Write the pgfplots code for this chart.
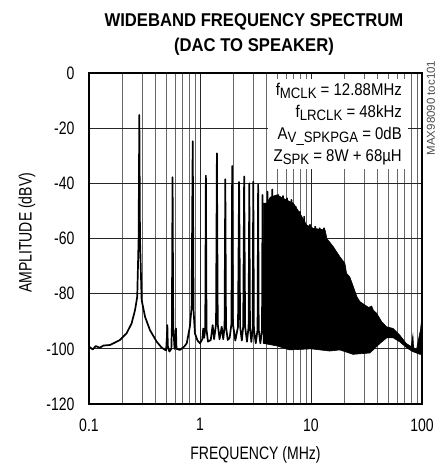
\documentclass[border=0pt]{standalone}
\usepackage{fontspec}
\setmainfont{Liberation Sans}[FakeStretch=0.78]
\newfontfamily\boxfont{Liberation Sans}[FakeStretch=0.88]
\newfontfamily\plainfont{Liberation Sans}
\newfontfamily\titlefont{Liberation Sans Bold}[FakeStretch=0.9]
\usepackage{pgfplots}
\pgfplotsset{compat=1.18}

\newcommand\sub[1]{\raisebox{-0.35ex}{\fontsize{15pt}{15pt}\selectfont #1}}

\begin{document}
\begin{tikzpicture}
\useasboundingbox (-89pt,-60pt) rectangle (351pt,404pt);
\begin{semilogxaxis}[
  scale only axis, width=333pt, height=331pt,
  xmin=0.1, xmax=100, ymin=-120, ymax=0,
  xtick={0.1,1,10,100}, xticklabels={0.1,1,10,100},
  minor xtick={0.2,0.3,0.4,0.5,0.6,0.7,0.8,0.9,2,3,4,5,6,7,8,9,20,30,40,50,60,70,80,90},
  ytick={-120,-100,-80,-60,-40,-20,0},
  yticklabels={-120,-100,-80,-60,-40,-20,0},
  grid=both,
  major grid style={black!85, line width=0.8pt},
  minor grid style={black!60, line width=0.7pt},
  major tick length=0pt, minor tick length=0pt,
  axis line style={line width=2pt},
  tick label style={font=\fontsize{18}{18}\selectfont},
  xticklabel style={yshift=-11pt},
  yticklabel style={xshift=-11pt},
  xlabel={FREQUENCY (MHz)}, ylabel={AMPLITUDE (dBV)},
  label style={font=\fontsize{18}{18}\selectfont},
  xlabel style={at={(axis description cs:0.5,-0.154)}, anchor=center},
  ylabel style={at={(axis description cs:-0.186,0.517)}, anchor=center},
]
% dense noise mass, upper envelope then lower envelope
\addplot[fill=black, draw=black, line width=0.6pt] coordinates {
  (3.70,-98) (3.72,-47.2) (3.99,-47.2) (4.30,-45) (4.91,-44.2) (5.26,-44.8)
  (6.00,-46) (6.93,-47.2) (7.96,-50.9) (9.14,-55.1) (10.5,-56.3) (13.4,-56.9)
  (13.9,-60) (15.9,-63) (18.2,-66.6) (20.2,-69) (20.9,-72.6) (22.4,-74)
  (24.1,-77.5) (25.9,-81.1) (27.6,-82.9) (30.6,-84.1) (33.0,-85) (35.2,-84.5)
  (36.5,-86) (39.0,-87.1) (43.4,-90.2) (47.9,-92) (54.9,-92.6) (63.0,-95)
  (72.0,-98) (79.8,-99.2) (82.8,-95) (84.0,-99.5) (89.1,-100.4) (94.0,-95.6)
  (97.0,-93) (100,-88)
  (100,-102) (95.9,-102) (82.6,-101) (73.2,-99.7) (63.2,-97.5) (54.9,-96)
  (48.2,-96) (41.9,-98) (34.0,-101.5) (23.9,-102) (18.2,-100.4) (14.7,-100.8)
  (10.0,-100) (6.4,-100.4) (5.0,-99) (3.70,-98)
};
% spectrum trace with harmonic spikes
\addplot[black, line width=1.7pt, line join=round] coordinates {
  (0.100,-99.2) (0.108,-100.2) (0.115,-99.0) (0.125,-99.6) (0.135,-98.8)
  (0.155,-98.6) (0.170,-97.8) (0.190,-96.8) (0.218,-94.4) (0.242,-90.8)
  (0.260,-85.9) (0.272,-81.1) (0.280,-60) (0.284,-15.2) (0.288,-60)
  (0.298,-82.3) (0.320,-88.4) (0.354,-93.2) (0.407,-97.4) (0.450,-99.5)
  (0.495,-100.6) (0.503,-96) (0.508,-91.4) (0.513,-99) (0.530,-101)
  (0.552,-100) (0.558,-92) (0.566,-37.8) (0.574,-92) (0.590,-100)
  (0.600,-97) (0.607,-92.6) (0.614,-100) (0.660,-100.4) (0.720,-99.2)
  (0.760,-98) (0.810,-92) (0.840,-85) (0.860,-24.7) (0.875,-86)
  (0.900,-94.4) (0.950,-97) (1.000,-98) (1.050,-96.5) (1.070,-92.6)
  (1.090,-96) (1.115,-93) (1.130,-37.2) (1.145,-93) (1.180,-97.4)
  (1.250,-96.8) (1.300,-91.4) (1.340,-96.5) (1.395,-91) (1.420,-29.1)
  (1.445,-91) (1.500,-96.5) (1.570,-92) (1.620,-96.5) (1.665,-92)
  (1.690,-38.5) (1.715,-92) (1.780,-96.8) (1.850,-96) (1.920,-91)
  (1.950,-33.7) (1.980,-91) (2.080,-97) (2.200,-92) (2.250,-39.5)
  (2.300,-92) (2.380,-97) (2.450,-92) (2.500,-37.5) (2.550,-92)
  (2.650,-97.4) (2.740,-92) (2.780,-40) (2.820,-92) (2.900,-97.5)
  (2.980,-93) (3.020,-39.4) (3.060,-93) (3.180,-98) (3.300,-93)
  (3.340,-40.5) (3.380,-93) (3.500,-98) (3.620,-93) (3.660,-44.2)
  (3.700,-93) (3.850,-98) (4.000,-94) (4.050,-43) (4.100,-94)
  (4.250,-98) (4.420,-94) (4.480,-42.2) (4.540,-94) (4.800,-98)
  (5.000,-94) (5.060,-44.2) (5.120,-94) (5.350,-98) (5.540,-94)
  (5.600,-44.6) (5.660,-94) (5.850,-98) (6.020,-94) (6.080,-45.4)
  (6.140,-94) (6.400,-99) (6.600,-94) (6.660,-46) (6.720,-94)
  (7.000,-99) (7.230,-94) (7.300,-48.5) (7.370,-94) (7.600,-99)
  (7.900,-94) (7.970,-50.3) (8.040,-94) (8.300,-99) (8.600,-94)
  (8.670,-52.1) (8.740,-94) (9.200,-99) (9.720,-94) (9.800,-55)
  (9.880,-94) (10.30,-99) (10.80,-94) (10.90,-55.7) (11.00,-94)
  (11.50,-99) (11.90,-94) (12.00,-56.3) (12.10,-94) (12.60,-99)
  (13.00,-94) (13.10,-56.3) (13.20,-94) (14.00,-99)
};
\node[fill=white, anchor=north east, align=right,
  inner xsep=6pt, inner ysep=4pt, font=\boxfont\fontsize{17}{22}\selectfont]
  at (rel axis cs:0.958,0.982)
  {f\sub{MCLK} = 12.88MHz\\
   f\sub{LRCLK} = 48kHz\\
   A\sub{V\_SPKPGA} = 0dB\\
   Z\sub{SPK} = 8W + 68µH};
\end{semilogxaxis}
\node[align=center, font=\titlefont\fontsize{18.5}{25}\selectfont]
  at (165pt,369.5pt) {WIDEBAND FREQUENCY SPECTRUM\\(DAC TO SPEAKER)};
\node[rotate=90, text=black!70, font=\plainfont\fontsize{11.5}{12}\selectfont]
  at (342pt,296pt) {MAX98090 toc101};
\end{tikzpicture}
\end{document}
